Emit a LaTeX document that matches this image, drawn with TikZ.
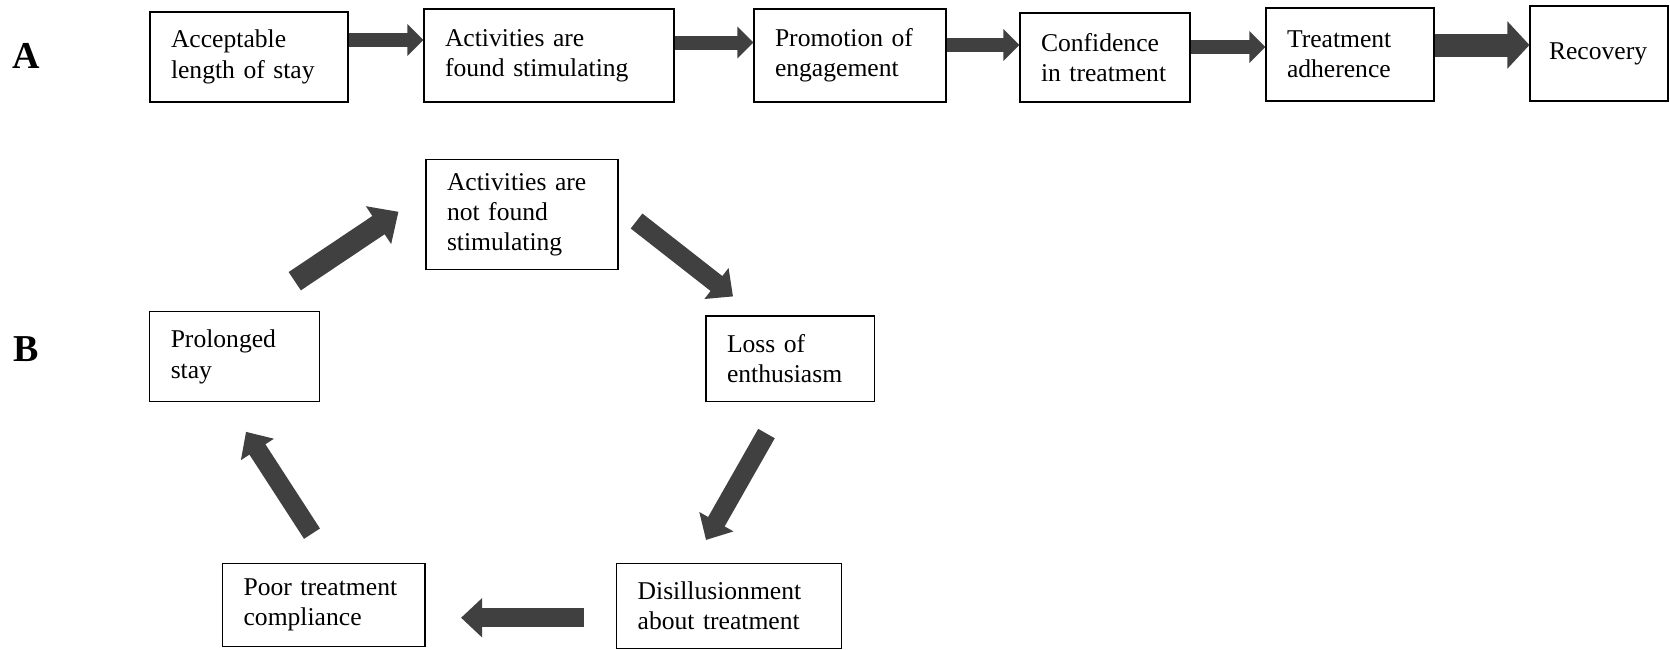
\documentclass[tikz,border=0pt]{standalone}
\usepackage{fontspec}
\setmainfont{Liberation Serif}
\usepackage{tikz}
\usetikzlibrary{arrows.meta,calc}
\definecolor{arrowgray}{RGB}{64,64,64}
\newcommand{\boxfont}{\fontsize{12.8}{15.2}\selectfont}
\tikzset{
block/.style = {draw, fill=white, rectangle, align=left, line width=0.55pt, inner xsep=10.5pt, inner ysep=0pt, font=\boxfont},
panel/.style = {font=\fontsize{19}{21}\selectfont\bfseries, inner sep=0pt},
flowarrow/.style = {draw=arrowgray, line width=7pt, -{Triangle[width=15.5pt,length=8pt]}},
bigarrow/.style = {draw=arrowgray, line width=11.5pt, -{Triangle[width=23pt,length=11pt]}},
looparrow/.style = {draw=arrowgray, line width=9.5pt, -{Triangle[width=19pt,length=10.5pt]}}
}

\begin{document}
\begin{tikzpicture}[x=0.5pt, y=-0.5pt]
    \useasboundingbox (0,0) rectangle (1670,649);
    % panel A: the straight path
    \node [panel] (labA) at (26,56) {A};
    \node [block, text width=78pt, minimum height=45pt] (accept) at (249,57) {Acceptable\\length of stay};
    \node [block, text width=104pt, minimum height=46.5pt] (actfound) at (549,55.5) {Activities are\\found stimulating};
    \node [block, text width=75pt, minimum height=46.5pt] (promo) at (850,55.5) {Promotion of\\engagement};
    \node [block, text width=64pt, minimum height=44.5pt] (confid) at (1105,57.5) {Confidence\\in treatment};
    \node [block, text width=63pt, minimum height=46.5pt] (adhere) at (1350,54.5) {Treatment\\adherence};
    \node [block, text width=50pt, inner xsep=9.5pt, minimum height=47.5pt] (recovery) at (1599,53.5) {Recovery};
    \draw [flowarrow] ($(accept.east)+(0,-17)$) -- ($(accept.east -| actfound.west)+(0,-17)$);
    \draw [flowarrow] ($(actfound.east)+(0,-13)$) -- ($(actfound.east -| promo.west)+(0,-13)$);
    \draw [flowarrow] ($(promo.east)+(0,-10.5)$) -- ($(promo.east -| confid.west)+(0,-10.5)$);
    \draw [flowarrow] ($(confid.east)+(0,-10.5)$) -- ($(confid.east -| adhere.west)+(0,-10.5)$);
    \draw [bigarrow] ($(adhere.east)+(0,-9.5)$) -- ($(adhere.east -| recovery.west)+(0,-9.5)$);

    % panel B: the vicious circle
    \node [panel] (labB) at (26.6,349) {B};
    \node [block, text width=75pt, minimum height=55pt] (actnot) at (522,214.75) {Activities are\\not found\\stimulating};
    \node [block, text width=64pt, minimum height=45pt] (prolonged) at (234.75,356.75) {Prolonged\\stay};
    \node [block, text width=63.25pt, minimum height=42.75pt] (loss) at (790.25,358.75) {Loss of\\enthusiasm};
    \node [block, text width=80.2pt, minimum height=41.5pt] (poor) at (323.8,605) {Poor treatment\\compliance};
    \node [block, text width=91.35pt, minimum height=42.6pt] (disill) at (729,606) {Disillusionment\\about treatment};
    \draw [looparrow, line width=11pt, -{Triangle[width=22pt,length=12pt]}] ([shift={(60,-30)}]prolonged.north) -- ([shift={(-27,-3)}]actnot.west);
    \draw [looparrow] ([shift={(18,6.25)}]actnot.east) -- ([shift={(-57.25,-19)}]loss.north);
    \draw [looparrow] ([shift={(-23.75,31.5)}]loss.south) -- ([shift={(-23,-22.9)}]disill.north);
    \draw [looparrow] ([shift={(-31.65,11.75)}]disill.west) -- ([shift={(35.5,12.75)}]poor.east);
    \draw [looparrow] ([shift={(-11.8,-29.3)}]poor.north) -- ([shift={(11.25,29.5)}]prolonged.south);
\end{tikzpicture}
\end{document}
